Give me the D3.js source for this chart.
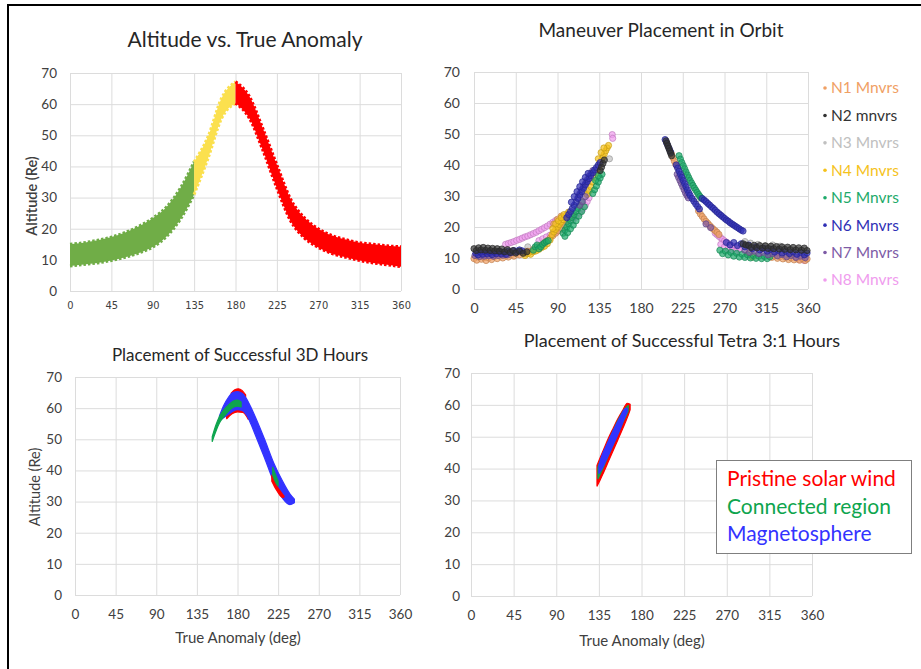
<!DOCTYPE html>
<html><head><meta charset="utf-8">
<script src="https://cdn.jsdelivr.net/npm/d3@7"></script>
<style>body{margin:0;background:#fff} svg{display:block}</style>
</head><body><svg id="c" width="921" height="669"></svg>
<script>
// ---------- shared ticks ----------
const xTicks = [0,45,90,135,180,225,270,315,360];
const yTicks = [0,10,20,30,40,50,60,70];

// ---------- Panel 1: Altitude vs True Anomaly (band envelope) ----------
const orbitAngles = [0,15,30,45,60,75,90,105,120,135,150,165,180,195,210,225,240,255,270,285,300,315,330,345,360];
const orbitLow    = [8,8.5,9,9.8,10.8,12.2,14.1,17.5,23,31,42.5,55.5,60.3,55.5,45,33,22.5,17,14,12,10.8,9.8,9,8.4,7.8];
const orbitHigh   = [15,15.5,16.3,17.3,18.8,20.8,23.4,27,33,41.5,49.5,62,67.2,62.5,52,40.5,29.5,23.5,20,17.8,16.5,15.5,15,14.5,14.2];
const orbitSegments = [[0,135,"#70AD47"],[135,180,"#FBE04E"],[180,360,"#FF0000"]];

// ---------- Panel 2: Maneuver placement ----------
const mnvrNames  = ["N1 Mnvrs","N2 mnvrs","N3 Mnvrs","N4 Mnvrs","N5 Mnvrs","N6 Mnvrs","N7 Mnvrs","N8 Mnvrs"];
const mnvrColors = ["#F0A064","#333333","#C0C0C0","#F5C21C","#1DAA6A","#2F2FB5","#7D5BA6","#F09CEE"];
const n1 = [[0,9.8],[3,9.3],[5,10.3],[8,9.6],[11,10.1],[13,9.2],[16,10],[19,9.5],[22,10.4],[25,9.8],[28,10.6],[31,10],[34,10.8],[37,10.3],[40,11],[43,10.6],[46,11.4],[49,11],[52,11.8],[55,11.5],[58,12.2],[61,12],[64,12.8],[67,13.2],[70,13.8],[73,14.2],[76,15],[79,15.6],[82,16.4],[85,17.2],[88,18],[91,18.8],[94,19.6],[97,20.6],[100,21.8],[103,23],[106,24.2],[86,21],[90,22.5],[94,23.5],
  [213,43.5],[214.5,42.3],[216,41.2],[217.5,40.2],[219,39.5],[242,25.2],[244,24.2],[246,23.4],[248,22.6],[250,21.8],[252,21.2],[254,20.5],[256,19.9],[258,19.3],[260,18.8],[262,18.3],[264,17.6],
  [318,10.8],[321,10.2],[324,10.6],[327,9.9],[330,10.4],[333,9.7],[336,10.2],[339,9.5],[342,10],[345,9.4],[348,9.9],[351,9.3],[354,9.8],[357,9.2],[359,9.7]];
const n2 = [[0,13],[2.5,12.4],[5,13.3],[7.5,12.6],[10,13.4],[12.5,12.5],[15,13.2],[17.5,12.4],[20,13.1],[22.5,12.3],[25,13],[27.5,12.2],[30,12.9],[33,12],[36,12.7],[39,11.8],[42,12.4],[45,11.6],[49,12.2],[53,11.5],[57,12],[136,38.2],[137.5,39.3],[139,40.5],[140.5,41.6],
  [207,47.8],[208,47],[209,46.2],[210,45.4],[211,44.6],[212,43.8],[213,43],
  [290,14.6],[293,14.2],[296,14],[299,13.4],[302,14.1],[305,13.3],[308,14],[311,13.2],[314,13.9],[317,13.1],[320,13.8],[323,13],[326,13.7],[329,12.9],[332,13.6],[335,12.8],[338,13.5],[341,12.7],[344,13.4],[347,12.6],[350,13.3],[353,12.5],[356,13.2],[359,12.4]];
const n3 = [[26,11.5],[58,13.6],[86,18],[108,23.5],[123,31],[146,42],[292,15.3],[298,14.8],[306,14.4],[314,14],[322,14.2],[330,13.8],[226,36.5],[240,29]];
const n4 = [[55,10.8],[58,11.4],[61,11.2],[64,12],[67,12.3],[70,12.8],[73,13.4],[76,13.8],[79,14.6],[82,15.8],[84,17.5],[86,18.4],[88,19.2],[90,20],[92,20.8],[94,21.6],[96,22.4],[98,23.2],[100,24],[102,24.8],[85,19.5],[88,21],[91,22],[94,23],[97,24],
  [122,30.5],[124,31.8],[126,33],[128,34.5],[130,36],[131.5,37.4],[133,38.6],[134.5,39.6],[136,40.6],[137.5,41.6],[139,42.6],[140.5,43.6],[142,44.6],[143.5,45.5],[145,46.3],[134,42],[137,44],[140,45.5],
  [296,11.5],[300,10.3],[340,11]];
const n5 = [[64,12.5],[66,13.6],[68,14.2],[70,13],[72,13.6],[74,14.4],[76,14.9],[78,15.3],[80,15.6],[96,18],[98,19],[100,20],[102,21],[104,22],[106,23],[108,24],[110,25],[112,26],[114,27],[116,28],[98,17],[101,18.2],[104,19.4],[107,20.6],[110,22],[113,23.5],[116,25],[119,26.5],[128,30.8],[130,32],[132,33.2],[134,34.5],[136,35.8],[138,37],[131,35],[134,36.5],
  [221,43],[222.5,41.9],[224,40.8],[225.5,39.8],[227,38.8],[228.5,37.8],[230,36.8],[231.5,35.9],[233,35],[234.5,34.2],[236,33.4],[237.5,32.6],[239,31.9],[240.5,31.2],[242,30.5],[243.5,29.9],[245,29.3],
  [265,12.5],[268,11.4],[271,12.2],[274,11],[277,11.8],[280,10.6],[283,11.5],[286,10.3],[289,11.2],[292,10.2],[295,11],[298,10],[301,10.8],[304,9.9],[307,10.6],[310,9.8],[313,10.5],[316,9.8],[319,10.4]];
const n6 = [[2,11.5],[4.5,11],[7,11.9],[9.5,11.2],[12,12],[14.5,11.3],[17,11.8],[19.5,11.1],[22,11.9],[24.5,11.4],[27,12.1],[29.5,11.3],[32,11.9],[34.5,11.2],[37,12.2],[40,11.7],[43,12.4],[46,12],[49,12.6],[52,12.3],
  [100,23],[102,24],[104,25],[106,26],[108,27],[110,28],[112,29.2],[114,30.3],[116,31.4],[118,32.5],[120,33.6],[122,34.6],[124,35.6],[126,36.6],[128,37.5],[130,38.4],[132,39.2],[134,40],[136,40.8],[105,28],[108,29.8],[111,31.4],[114,33],[117,34.6],[120,36],[123,37.3],
  [206,48.2],[207.5,47.2],[209,46.2],[210.5,45.2],[212,44.2],[218,40],[219.5,39],[221,38],[222.5,37],[224,36],[225.5,35],[227,34],[228.5,33],[230,32],[231.5,31],[233,30.2],[235,29.2],[237,28.3],[239,27.4],[241,26.6],[243,25.8],
  [246,29.2],[248,28.7],[250,28.2],[252,27.6],[254,27.1],[256,26.5],[258,26],[260,25.4],[262,24.8],[264,24.3],[266,23.8],[268,23.3],[270,22.8],[272,22.3],[274,21.9],[276,21.4],[278,21],[280,20.6],[282,20.2],[284,19.8],[286,19.4],[288,19],[290,18.7],
  [272,15],[276,14.2],[280,15],[284,14],[288,14.6],[292,13.6],[296,14.2],[300,13],[304,13.6],[308,12.6],[312,13.2],[316,12.2],[320,12.8],[324,11.9],[328,12.5],[332,11.6],[336,12.2],[340,11.4],[344,12],[348,11.2],[352,11.8],[356,11],[359,11.6]];
const n7 = [[1,10.8],[3.5,11.7],[6,10.5],[8.5,11.4],[11,10.6],[13.5,11.6],[16,10.7],[18.5,11.5],[21,10.6],[23.5,11.6],[26,10.8],[28.5,11.7],[31,10.9],[33.5,11.6],[36,11],[112,29.5],[114,30.8],[116,32],[118,33],[120,34],[122,35.2],[124,36.4],[126,37.3],[128,38.2],[114,27],[117,28.2],[120,29.8],
  [219,37],[220.5,36],[222,35],[223.5,34],[225,33],[226.5,32],[228,31],[229.5,30.2],[231,29.4],[250,21],[255,19.8],
  [292,12.5],[297,11.8],[302,12.2],[307,11.4],[312,11.8],[317,11],[322,11.4],[327,10.7],[332,11.1],[337,10.4],[342,10.8],[347,10.2],[352,10.6],[357,10.1]];
const n8 = [[34,14.4],[37,14.7],[40,15],[43,15.3],[46,15.7],[49,16],[52,16.4],[55,16.8],[58,17.1],[61,17.5],[64,17.9],[67,18.3],[70,18.8],[73,19.3],[76,19.8],[79,20.3],[82,20.9],[85,21.5],[88,22.1],[70,15.6],[74,16.2],[78,16.8],[82,17.4],[86,18],[90,18.6],[94,19.3],[98,20.1],[102,21],[106,22],[110,23.2],[114,24.5],[117,25.7],[120,27],[122,28.2],[124,29.4],[149,49.8],[149.5,48.6],
  [260,18],[262,17.5],[264,17],[266,16.5],[268,16],[270,15.5],[272,15.1],[274,14.7],[276,14.3],[278,13.9],[280,13.6],[282,13.3],[284,13],[286,12.7],[266,14.4],[270,13.6],[274,13],[278,12.5],[282,12.1],[350,9.5],[356,9.2]];
const mnvrData = [n1,n2,n3,n4,n5,n6,n7,n8];

// ---------- Panel 3: Successful 3D hours (bands) ----------
const regionNames  = ["Pristine solar wind","Connected region","Magnetosphere"];
const regionColors = ["#FF0000","#0EA54E","#3333FF"];
const d3RedLowArcA = [168,174,180,186,192];
const d3RedLowArcL = [56.6,58.2,58.8,58.6,56.4];
const d3RedLowArcH = [58,59.4,59.8,59.6,58];
const d3RedCapA = [173,177,181,185,189];
const d3RedCapL = [63.5,64.5,64.8,64.3,63];
const d3RedCapH = [64.8,65.9,66.2,65.7,64.3];
const d3BlueA = [160,165,170,175,180,185,190,195,200,210,220,230,238,243];
const d3BlueL = [56,57,58,59,59.5,59.3,57.8,54.8,51.2,44,36.5,31,29,29.6];
const d3BlueH = [57.5,61,63.5,65,65.3,64.8,63,60.2,57,50,42.5,36.5,32.5,30.8];
const d3GreenA = [152,156,160,165,170,175,180,184];
const d3GreenL = [49.3,52.5,55.2,57.3,59,60.2,60.6,60.4];
const d3GreenH = [50.8,54.5,57.3,59.5,61,62.2,62.6,62];
const d3RedTailA = [218,221,224,227,230,231.5];
const d3RedTailL = [36.5,34.8,33.3,32,31.3,31.5];
const d3RedTailH = [38.5,36.5,34.8,33.5,32.3,31.8];
const d3GreenTailA = [219,221,223,225];
const d3GreenTailL = [38.5,37,35.8,35];
const d3GreenTailH = [41,39.5,38,36.5];

// ---------- Panel 4: Successful Tetra 3:1 hours ----------
const ttRedA = [133,136,140,145,150,155,160,165,168];
const ttRedL = [34.5,36.2,38.8,42.2,45.6,49,52.4,56,58.5];
const ttRedH = [41,43.2,46,49.5,52.6,55.6,58.2,60.5,60.2];
const ttGreenA = [134,137,141,146,151,156,161,166];
const ttGreenL = [36.8,38.6,41.3,44.7,48.1,51.5,54.9,58];
const ttGreenH = [40.5,42.8,45.7,49.2,52.5,55.6,58.2,59.8];
const ttBlueA = [135,138,142,146,150,154,158,162,165];
const ttBlueL = [38.5,39.8,42.2,44.8,47.4,50,52.8,55.8,57.8];
const ttBlueH = [41,44,46.6,49.3,51.8,54.2,56.5,58.6,59];

// =====================================================
const svg = d3.select("#c");
const FONT = "Lato, 'Open Sans', sans-serif";
svg.append("rect").attr("x",8).attr("y",5).attr("width",930).attr("height",690)
  .attr("fill","none").attr("stroke","#000").attr("stroke-width",2);

function makePanel(p){
  const x = d3.scaleLinear().domain([0,360]).range([p.x0,p.x1]);
  const y = d3.scaleLinear().domain([0,70]).range([p.y0,p.y1]);
  const g = svg.append("g");
  g.selectAll("line.v").data(xTicks).join("line").attr("class","v")
    .attr("x1",d=>x(d)+0.5).attr("x2",d=>x(d)+0.5).attr("y1",y(0)).attr("y2",y(70))
    .attr("stroke","#DCDCDC").attr("stroke-width",1);
  g.selectAll("line.h").data(yTicks).join("line").attr("class","h")
    .attr("x1",x(0)).attr("x2",x(360)).attr("y1",d=>y(d)+0.5).attr("y2",d=>y(d)+0.5)
    .attr("stroke","#DCDCDC").attr("stroke-width",1);
  const ax = g.append("g").attr("transform",`translate(0,${y(0)})`)
    .call(d3.axisBottom(x).tickValues(xTicks).tickSize(0).tickPadding(p.xpad));
  ax.select(".domain").remove();
  ax.selectAll("text").attr("font-family",p.xFont||FONT).attr("font-size",p.xSize).attr("fill","#404040");
  const ay = g.append("g").attr("transform",`translate(${x(0)},0)`)
    .call(d3.axisLeft(y).tickValues(yTicks).tickSize(0).tickPadding(p.ypad));
  ay.select(".domain").remove();
  ay.selectAll("text").attr("font-family",FONT).attr("font-size",p.ySize).attr("fill","#404040");
  svg.append("text").attr("x",p.tx).attr("y",p.ty).attr("text-anchor","middle")
    .attr("font-family",FONT).attr("font-size",p.tSize).attr("fill","#262626").text(p.title);
  return {x,y,g:svg.append("g")};
}

function band(P, A, L, H, color){
  const pts = A.map((a,i)=>({a,l:L[i],h:H[i]}));
  const area = d3.area().x(d=>P.x(d.a)).y0(d=>P.y(d.l)).y1(d=>P.y(d.h)).curve(d3.curveMonotoneX);
  P.g.append("path").datum(pts).attr("d",area).attr("fill",color).attr("stroke",color).attr("stroke-width",1.2).attr("stroke-linejoin","round");
}

// ---- Panel 1
const P1 = makePanel({x0:70,x1:401,y0:291,y1:73,xpad:10,xSize:11,xFont:"'Liberation Sans Narrow','DejaVu Sans Condensed',sans-serif",ypad:13,ySize:13.5,
  title:"Altitude vs. True Anomaly",tx:245,ty:47,tSize:21});
const orbitPts = orbitAngles.map((a,i)=>({a,l:orbitLow[i],h:orbitHigh[i]}));
orbitSegments.forEach(([s,e,c])=>{
  const seg = orbitPts.filter(d=>d.a>=s && d.a<=e);
  const area = d3.area().x(d=>P1.x(d.a)).y0(d=>P1.y(d.l)).y1(d=>P1.y(d.h)).curve(d3.curveMonotoneX);
  P1.g.append("path").datum(seg).attr("d",area).attr("fill",c);
  [d=>d.l,d=>d.h].forEach(acc=>{
    const ln = d3.line().x(d=>P1.x(d.a)).y(d=>P1.y(acc(d))).curve(d3.curveMonotoneX);
    P1.g.append("path").datum(seg).attr("d",ln).attr("fill","none").attr("stroke",c)
      .attr("stroke-width",3).attr("stroke-dasharray","2.5,2");
  });
});
svg.append("text").attr("transform","translate(37,196) rotate(-90)").attr("text-anchor","middle")
  .attr("font-family",FONT).attr("font-size",14.5).attr("font-weight",600).attr("fill","#404040").text("Altitude (Re)");

// ---- Panel 2
const P2 = makePanel({x0:474,x1:808,y0:289,y1:72,xpad:14,xSize:14,ypad:14,ySize:14,
  title:"Maneuver Placement in Orbit",tx:661,ty:37,tSize:19});
const drawOrder = [2,7,0,3,4,6,5,1];
drawOrder.forEach(si=>{
  P2.g.selectAll(null).data(mnvrData[si]).join("circle")
    .attr("cx",d=>P2.x(d[0])).attr("cy",d=>P2.y(d[1])).attr("r",3.1)
    .attr("fill",mnvrColors[si]).attr("fill-opacity",0.7)
    .attr("stroke",d3.color(mnvrColors[si]).darker(0.6)).attr("stroke-width",0.9).attr("stroke-opacity",0.8);
});
const legY = d3.scalePoint().domain(mnvrNames).range([88,280]);
mnvrNames.forEach((n,i)=>{
  svg.append("circle").attr("cx",825).attr("cy",legY(n)).attr("r",1.8).attr("fill",mnvrColors[i]);
  svg.append("text").attr("x",831).attr("y",legY(n)).attr("dy","0.35em").attr("font-family",FONT)
    .attr("font-size",15.5).attr("fill",mnvrColors[i]).text(n);
});

// ---- Panel 3
const P3 = makePanel({x0:75,x1:400,y0:595,y1:377,xpad:14,xSize:13.5,ypad:13,ySize:13.5,
  title:"Placement of Successful 3D Hours",tx:240,ty:361,tSize:17});
band(P3,d3RedLowArcA,d3RedLowArcL,d3RedLowArcH,regionColors[0]);
band(P3,d3RedCapA,d3RedCapL,d3RedCapH,regionColors[0]);
band(P3,d3BlueA,d3BlueL,d3BlueH,regionColors[2]);
band(P3,d3GreenA,d3GreenL,d3GreenH,regionColors[1]);
band(P3,d3RedTailA,d3RedTailL,d3RedTailH,regionColors[0]);
band(P3,d3GreenTailA,d3GreenTailL,d3GreenTailH,regionColors[1]);
svg.append("text").attr("transform","translate(40,487) rotate(-90)").attr("text-anchor","middle")
  .attr("font-family",FONT).attr("font-size",14.5).attr("fill","#404040").text("Altitude (Re)");
svg.append("text").attr("x",238).attr("y",643).attr("text-anchor","middle")
  .attr("font-family",FONT).attr("font-size",15).attr("fill","#404040").text("True Anomaly (deg)");

// ---- Panel 4
const P4 = makePanel({x0:471,x1:812,y0:596,y1:373,xpad:14,xSize:13.5,ypad:11,ySize:13.5,
  title:"Placement of Successful Tetra 3:1 Hours",tx:682,ty:347,tSize:18});
band(P4,ttRedA,ttRedL,ttRedH,regionColors[0]);
band(P4,ttGreenA,ttGreenL,ttGreenH,regionColors[1]);
band(P4,ttBlueA,ttBlueL,ttBlueH,regionColors[2]);
svg.append("text").attr("x",642).attr("y",646).attr("text-anchor","middle")
  .attr("font-family",FONT).attr("font-size",15).attr("fill","#404040").text("True Anomaly (deg)");

// legend box
svg.append("rect").attr("x",716.5).attr("y",460.5).attr("width",195).attr("height",93)
  .attr("fill","#fff").attr("stroke","#7F7F7F").attr("stroke-width",1);
const lgY = d3.scalePoint().domain(regionNames).range([479,534]);
regionNames.forEach((n,i)=>{
  svg.append("text").attr("x",727).attr("y",lgY(n)).attr("dy","0.35em").attr("font-family",FONT)
    .attr("font-size",21).attr("fill",regionColors[i]).text(n);
});
</script></body></html>
